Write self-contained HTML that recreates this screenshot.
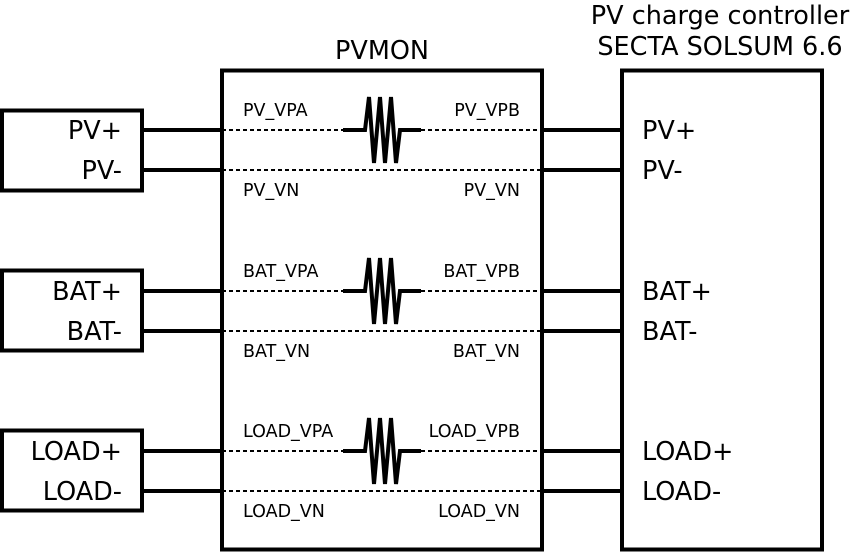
<!DOCTYPE html>
<html><head><style>body{margin:0;background:#fff}svg{display:block}text{font-family:"DejaVu Sans",sans-serif;fill:#000}</style></head><body>
<svg width="851" height="552" xmlns="http://www.w3.org/2000/svg">
<g fill="none" stroke="#000" stroke-width="4">
<rect x="222" y="70.5" width="320" height="479"/>
<rect x="622" y="70.5" width="200" height="479"/>
<rect x="2" y="110.5" width="140" height="80"/>
<rect x="2" y="270.5" width="140" height="80"/>
<rect x="2" y="430.5" width="140" height="80"/>
</g>
<g id="grp">
<g stroke="#000" stroke-width="4">
<line x1="142" y1="130" x2="222" y2="130"/><line x1="142" y1="170" x2="222" y2="170"/>
<line x1="542" y1="130" x2="622" y2="130"/><line x1="542" y1="170" x2="622" y2="170"/>
</g>
<g stroke="#000" stroke-width="2" stroke-dasharray="4,3">
<line x1="222" y1="130" x2="343" y2="130"/><line x1="421" y1="130" x2="542" y2="130"/>
<line x1="222" y1="170" x2="542" y2="170"/>
</g>
<polyline fill="none" stroke="#000" stroke-width="4" points="343,130 365,130 369,97 374,163 380,97 385,163 391,97 396,163 400,130 421,130"/>
</g>
<use href="#grp" y="161"/>
<use href="#grp" y="321"/>
<g font-size="17.5">
<text x="243" y="116">PV_VPA</text><text x="520" y="116" text-anchor="end">PV_VPB</text>
<text x="243" y="196">PV_VN</text><text x="520" y="196" text-anchor="end">PV_VN</text>
<text x="243" y="277">BAT_VPA</text><text x="520" y="277" text-anchor="end">BAT_VPB</text>
<text x="243" y="357">BAT_VN</text><text x="520" y="357" text-anchor="end">BAT_VN</text>
<text x="243" y="437">LOAD_VPA</text><text x="520" y="437" text-anchor="end">LOAD_VPB</text>
<text x="243" y="517">LOAD_VN</text><text x="520" y="517" text-anchor="end">LOAD_VN</text>
</g>
<g font-size="25.5">
<text x="122" y="139" text-anchor="end">PV+</text><text x="122" y="179" text-anchor="end">PV-</text>
<text x="122" y="300" text-anchor="end">BAT+</text><text x="122" y="340" text-anchor="end">BAT-</text>
<text x="122" y="460" text-anchor="end">LOAD+</text><text x="122" y="500" text-anchor="end">LOAD-</text>
<text x="642" y="139">PV+</text><text x="642" y="179">PV-</text>
<text x="642" y="300">BAT+</text><text x="642" y="340">BAT-</text>
<text x="642" y="460">LOAD+</text><text x="642" y="500">LOAD-</text>
<text x="382" y="59" text-anchor="middle">PVMON</text>
<text x="720" y="24" text-anchor="middle">PV charge controller</text>
<text x="720" y="55" text-anchor="middle">SECTA SOLSUM 6.6</text>
</g>
</svg>
</body></html>
